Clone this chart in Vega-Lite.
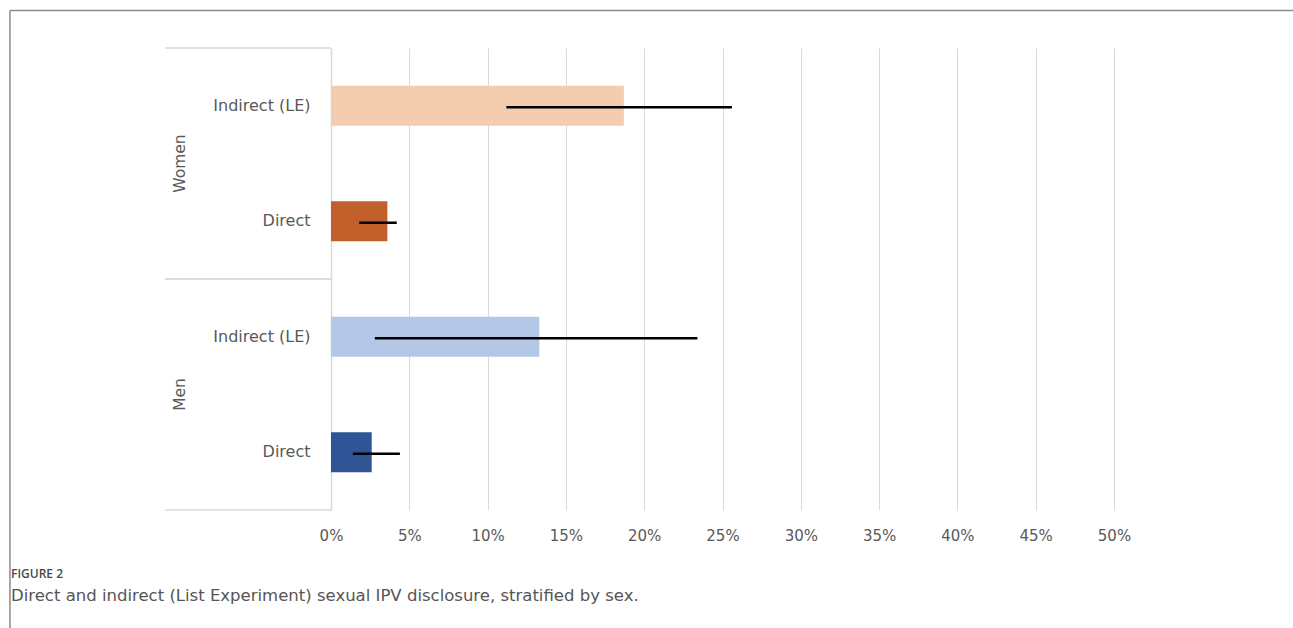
{
  "$schema": "https://vega.github.io/schema/vega-lite/v6.json",
  "width": 783,
  "height": 462,
  "autosize": {"type": "none"},
  "padding": {"left": 331, "top": 48, "right": 179, "bottom": 118},
  "background": "white",
  "config": {
    "view": {"stroke": null},
    "font": "DejaVu Sans"
  },
  "title": {
    "text": "FIGURE 2",
    "subtitle": "Direct and indirect (List Experiment) sexual IPV disclosure, stratified by sex.",
    "orient": "bottom",
    "anchor": "start",
    "frame": "group",
    "dx": -320,
    "offset": -60,
    "font": "Open Sans",
    "fontSize": 12,
    "fontWeight": 600,
    "color": "#4a4a4a",
    "subtitleFont": "DejaVu Sans",
    "subtitleFontSize": 16.5,
    "subtitleColor": "#555555",
    "subtitlePadding": 7
  },
  "datasets": {
    "bars": [
      {"sex": "Women", "cat": "Women|Indirect (LE)", "label": "Indirect (LE)", "value": 0.187, "lo": 0.112, "hi": 0.256},
      {"sex": "Women", "cat": "Women|Direct", "label": "Direct", "value": 0.036, "lo": 0.018, "hi": 0.042},
      {"sex": "Men", "cat": "Men|Indirect (LE)", "label": "Indirect (LE)", "value": 0.133, "lo": 0.028, "hi": 0.234},
      {"sex": "Men", "cat": "Men|Direct", "label": "Direct", "value": 0.026, "lo": 0.014, "hi": 0.044}
    ]
  },
  "resolve": {"scale": {"y": "independent"}, "axis": {"y": "independent"}},
  "layer": [
    {
      "data": {"name": "bars"},
      "layer": [
        {
          "mark": {"type": "bar", "height": {"band": 0.346}},
          "encoding": {
            "x": {
              "field": "value", "type": "quantitative",
              "scale": {"domain": [0, 0.5], "nice": false, "zero": true},
              "axis": {
                "values": [0, 0.05, 0.1, 0.15, 0.2, 0.25, 0.3, 0.35, 0.4, 0.45, 0.5],
                "format": ".0%", "grid": true, "gridColor": "#d9d9d9", "gridWidth": 1,
                "domain": false, "ticks": false, "labelPadding": 18,
                "labelFlush": false, "labelAlign": "center",
                "labelFontSize": 15, "labelColor": "#595959", "labelFont": "DejaVu Sans",
                "title": null
              }
            },
            "y": {
              "field": "cat", "type": "nominal",
              "scale": {"domain": ["Women|Indirect (LE)", "Women|Direct", "Men|Indirect (LE)", "Men|Direct"], "paddingInner": 0, "paddingOuter": 0},
              "axis": {
                "labelExpr": "split(datum.label, '|')[1]",
                "ticks": false, "domain": true, "domainColor": "#d9d9d9", "domainWidth": 1.5,
                "labelPadding": 21, "labelFontSize": 16, "labelColor": "#595959", "labelFont": "DejaVu Sans",
                "title": null, "grid": false
              }
            },
            "color": {
              "field": "cat", "type": "nominal", "legend": null,
              "scale": {
                "domain": ["Women|Indirect (LE)", "Women|Direct", "Men|Indirect (LE)", "Men|Direct"],
                "range": ["#F4CCAF", "#C2602B", "#B4C7E7", "#2F5597"]
              }
            }
          }
        },
        {
          "mark": {"type": "rule", "color": "#000000", "strokeWidth": 2.5, "yOffset": 1.5},
          "encoding": {
            "x": {"field": "lo", "type": "quantitative"},
            "x2": {"field": "hi"},
            "y": {"field": "cat", "type": "nominal"}
          }
        },
        {
          "transform": [{"filter": "datum.label == 'Indirect (LE)'"}],
          "mark": {"type": "rule", "color": "#d9d9d9", "strokeWidth": 1.5, "clip": false},
          "encoding": {
            "x": {"datum": -0.106},
            "x2": {"datum": 0},
            "y": {"field": "cat", "type": "nominal", "bandPosition": 0}
          }
        },
        {
          "transform": [{"filter": "datum.label == 'Direct'"}],
          "mark": {"type": "rule", "color": "#d9d9d9", "strokeWidth": 1.5, "clip": false},
          "encoding": {
            "x": {"datum": -0.106},
            "x2": {"datum": 0},
            "y": {"field": "cat", "type": "nominal", "bandPosition": 1}
          }
        },
        {
          "transform": [{"filter": "datum.label == 'Direct'"}],
          "mark": {"type": "text", "angle": 270, "align": "center", "baseline": "middle", "fontSize": 15.5, "color": "#595959", "font": "DejaVu Sans", "clip": false},
          "encoding": {
            "x": {"datum": -0.0964},
            "y": {"field": "cat", "type": "nominal", "bandPosition": 0},
            "text": {"field": "sex"}
          }
        }
      ]
    },
    {
      "data": {"values": [{}]},
      "layer": [
        {
          "mark": {"type": "rule", "color": "#8c8c8c", "strokeWidth": 1.5, "clip": false},
          "encoding": {
            "x": {"datum": -0.205},
            "x2": {"datum": 0.62},
            "y": {"datum": 1.0812, "type": "quantitative", "scale": {"domain": [0, 1], "nice": false, "zero": false}, "axis": null}
          }
        },
        {
          "mark": {"type": "rule", "color": "#8c8c8c", "strokeWidth": 1.5, "clip": false},
          "encoding": {
            "x": {"datum": -0.205},
            "y": {"datum": 1.0812, "type": "quantitative"},
            "y2": {"datum": -0.2554}
          }
        }
      ]
    }
  ]
}
